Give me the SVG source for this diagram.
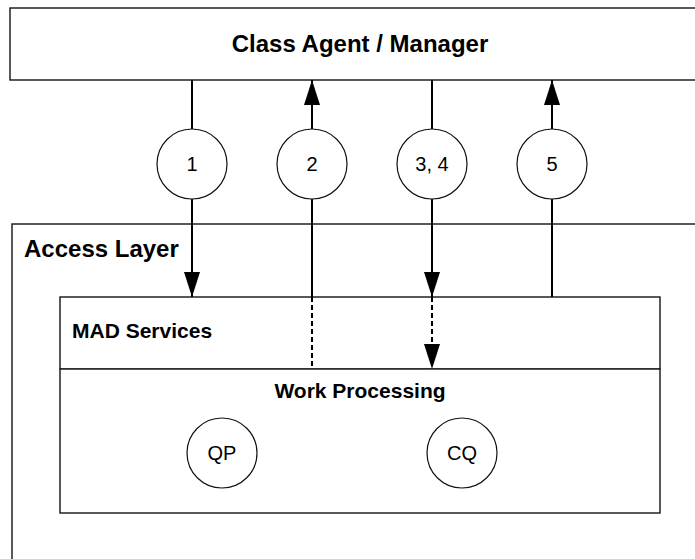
<svg xmlns="http://www.w3.org/2000/svg" width="695" height="559" viewBox="0 0 695 559">
  <style>
    .box { fill: #ffffff; stroke: #222222; stroke-width: 1.5; }
    .circ { fill: #ffffff; stroke: #111111; stroke-width: 1.2; }
    .title { font-family: "Liberation Sans", Arial, sans-serif; font-weight: bold; font-size: 24px; fill: #000000; }
    .sub { font-family: "Liberation Sans", Arial, sans-serif; font-weight: bold; font-size: 21px; fill: #000000; }
    .lbl { font-family: "Liberation Sans", Arial, sans-serif; font-size: 20px; fill: #000000; text-anchor: middle; }
    .conn { stroke: #000000; stroke-width: 2; fill: none; }
    .dash { stroke-dasharray: 5 3; }
  </style>
  <defs>
    <marker id="head" viewBox="0 0 25 16" markerWidth="25" markerHeight="16" markerUnits="userSpaceOnUse" refX="25" refY="8" orient="auto">
      <path d="M0,0 L25,8 L0,16 Z" fill="#000000" stroke="none"/>
    </marker>
  </defs>

  <!-- outer access layer container -->
  <g id="access-layer">
    <rect class="box" x="12" y="224" width="700" height="400"/>
    <text class="title" x="24" y="257">Access Layer</text>
  </g>

  <!-- manager across the top -->
  <g id="class-agent-manager">
    <rect class="box" x="10" y="8" width="700" height="72"/>
    <text class="title" x="360" y="52" text-anchor="middle">Class Agent / Manager</text>
  </g>

  <g id="mad-services">
    <rect class="box" x="60" y="297" width="600" height="72"/>
    <text class="sub" x="72" y="338">MAD Services</text>
  </g>

  <g id="work-processing">
    <rect class="box" x="60" y="369" width="600" height="144"/>
    <text class="sub" x="360" y="398" text-anchor="middle">Work Processing</text>
  </g>

  <g id="qp">
    <circle class="circ" cx="222" cy="453" r="35"/>
    <text class="lbl" x="222" y="460">QP</text>
  </g>
  <g id="cq">
    <circle class="circ" cx="462" cy="453" r="35"/>
    <text class="lbl" x="462" y="460">CQ</text>
  </g>

  <!-- message flows between manager and MAD services -->
  <g id="connectors">
    <!-- 1: down -->
    <line class="conn" x1="192" y1="80" x2="192" y2="129"/>
    <line class="conn" x1="192" y1="199" x2="192" y2="297" marker-end="url(#head)"/>
    <!-- 2: up -->
    <line class="conn" x1="312" y1="129" x2="312" y2="80" marker-end="url(#head)"/>
    <line class="conn" x1="312" y1="199" x2="312" y2="297"/>
    <line class="conn dash" x1="312" y1="297" x2="312" y2="369"/>
    <!-- 3, 4: down -->
    <line class="conn" x1="432" y1="80" x2="432" y2="129"/>
    <line class="conn" x1="432" y1="199" x2="432" y2="297" marker-end="url(#head)"/>
    <line class="conn dash" x1="432" y1="297" x2="432" y2="369" marker-end="url(#head)"/>
    <!-- 5: up -->
    <line class="conn" x1="552" y1="129" x2="552" y2="80" marker-end="url(#head)"/>
    <line class="conn" x1="552" y1="199" x2="552" y2="297"/>
  </g>

  <g id="step-1">
    <circle class="circ" cx="192" cy="164" r="35"/>
    <text class="lbl" x="192" y="171">1</text>
  </g>
  <g id="step-2">
    <circle class="circ" cx="312" cy="164" r="35"/>
    <text class="lbl" x="312" y="171">2</text>
  </g>
  <g id="step-3-4">
    <circle class="circ" cx="432" cy="164" r="35"/>
    <text class="lbl" x="432" y="171">3, 4</text>
  </g>
  <g id="step-5">
    <circle class="circ" cx="552" cy="164" r="35"/>
    <text class="lbl" x="552" y="171">5</text>
  </g>
</svg>
